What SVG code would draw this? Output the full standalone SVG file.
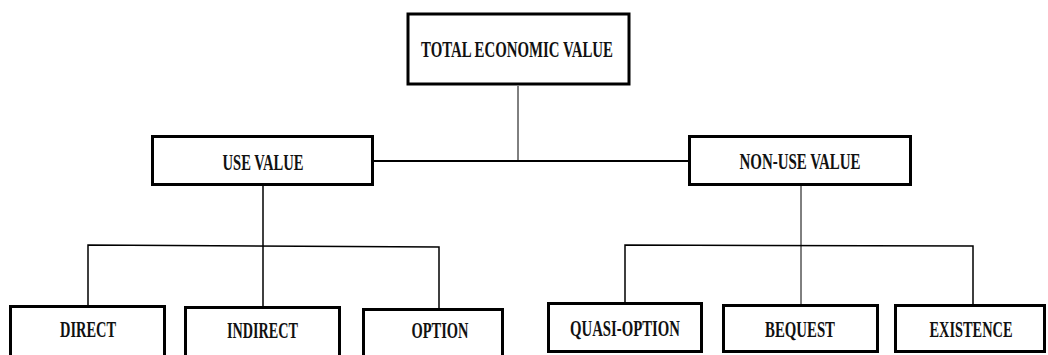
<svg xmlns="http://www.w3.org/2000/svg" width="1048" height="355" viewBox="0 0 1048 355">
<style>
.box{fill:#fff;stroke:#000;stroke-width:3}
.lbl{font-family:"Liberation Serif","Times New Roman",serif;font-weight:bold;font-size:23px;fill:#111;text-anchor:middle}
.sm{font-size:24px}
.ln{stroke:#000;fill:none}
</style>
<rect width="1048" height="355" fill="#fff"/>
<g id="connectors">
<line class="ln" x1="518" y1="86" x2="518" y2="161" stroke-width="1"/>
<line class="ln" x1="374" y1="161" x2="688" y2="161" stroke-width="2"/>
<line class="ln" x1="263" y1="186" x2="263" y2="306" stroke-width="1.5"/>
<polyline class="ln" points="88,305 88,245 439,247 439,308" stroke-width="1.5"/>
<line class="ln" x1="801" y1="186" x2="801" y2="304" stroke-width="1"/>
<polyline class="ln" points="625,302 625,245 973,246 973,304" stroke-width="1.5"/>
</g>
<g id="tev">
<rect class="box" x="408" y="14" width="221" height="70" stroke-width="4"/>
<text class="lbl" transform="translate(517 57) scale(0.62 1)" textLength="309.7" lengthAdjust="spacingAndGlyphs">TOTAL ECONOMIC VALUE</text>
</g>
<g id="use">
<rect class="box" x="152.5" y="136.5" width="220" height="48"/>
<text class="lbl" transform="translate(263 170) scale(0.62 1)" textLength="130.6" lengthAdjust="spacingAndGlyphs">USE VALUE</text>
</g>
<g id="nonuse">
<rect class="box" x="689.5" y="136.5" width="221" height="48"/>
<text class="lbl" transform="translate(800 169) scale(0.62 1)" textLength="195.2" lengthAdjust="spacingAndGlyphs">NON-USE VALUE</text>
</g>
<g id="direct">
<rect class="box" x="10.5" y="306.5" width="154" height="60"/>
<text class="lbl sm" transform="translate(88 337) scale(0.62 1)" textLength="90.3" lengthAdjust="spacingAndGlyphs">DIRECT</text>
</g>
<g id="indirect">
<rect class="box" x="185.5" y="307.5" width="154" height="60"/>
<text class="lbl sm" transform="translate(262.5 338) scale(0.62 1)" textLength="114.5" lengthAdjust="spacingAndGlyphs">INDIRECT</text>
</g>
<g id="option">
<rect class="box" x="363.5" y="309.5" width="139" height="60"/>
<text class="lbl sm" transform="translate(440 338) scale(0.62 1)" textLength="91.9" lengthAdjust="spacingAndGlyphs">OPTION</text>
</g>
<g id="quasi">
<rect class="box" x="548.5" y="303.5" width="153" height="48" stroke-width="3.5"/>
<text class="lbl sm" transform="translate(625 336) scale(0.62 1)" textLength="177.4" lengthAdjust="spacingAndGlyphs">QUASI-OPTION</text>
</g>
<g id="bequest">
<rect class="box" x="723.5" y="305.5" width="154" height="46"/>
<text class="lbl sm" transform="translate(800 337) scale(0.62 1)" textLength="112.9" lengthAdjust="spacingAndGlyphs">BEQUEST</text>
</g>
<g id="existence">
<rect class="box" x="895.5" y="305.5" width="149" height="46"/>
<text class="lbl sm" transform="translate(971 337) scale(0.62 1)" textLength="133.9" lengthAdjust="spacingAndGlyphs">EXISTENCE</text>
</g>
</svg>
